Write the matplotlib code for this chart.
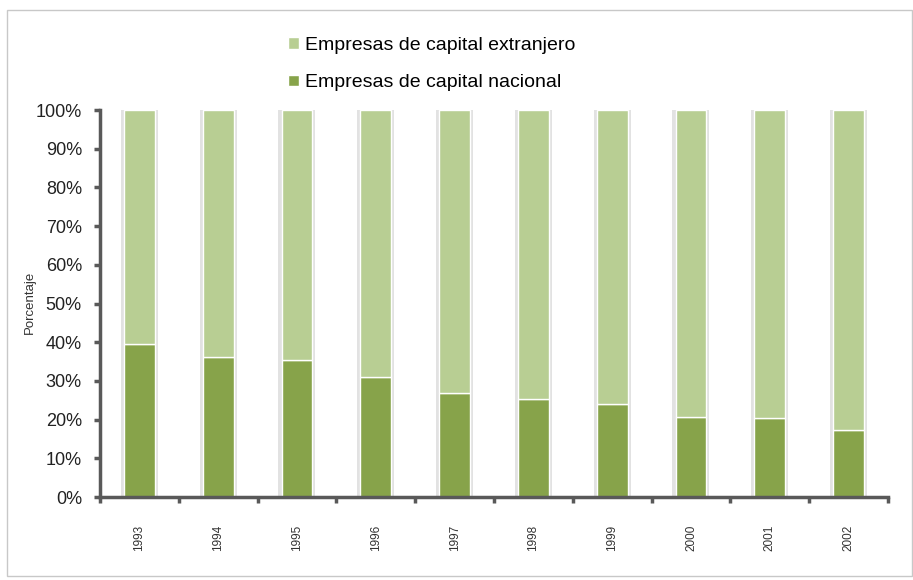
import matplotlib.pyplot as plt
from matplotlib.patches import Rectangle
from matplotlib.ticker import PercentFormatter
import numpy as np

# --- datos ---
anios = ["1993", "1994", "1995", "1996", "1997", "1998", "1999", "2000", "2001", "2002"]
nacional = [39.5, 36.2, 35.4, 31.0, 26.9, 25.3, 24.0, 20.7, 20.3, 17.3]
extranjero = [100 - v for v in nacional]

COLOR_NAC = "#87a34a"
COLOR_EXT = "#b8ce93"
COLOR_EJE = "#595959"

plt.rcParams["font.family"] = ["Liberation Sans", "DejaVu Sans"]

fig = plt.figure(figsize=(9.13, 5.80), dpi=100)
ax = fig.add_axes([0.1095, 0.1431, 0.8631, 0.6672])

# marco exterior
fig.patches.append(Rectangle((7 / 913, 4 / 580), 905 / 913, 566 / 580,
                             transform=fig.transFigure, fill=False,
                             edgecolor="#c8c8c8", linewidth=1.0))

x = np.arange(len(anios))
ancho = 0.39

# sombra ligera detrás de cada barra
ax.bar(x, [n + e for n, e in zip(nacional, extranjero)], width=ancho + 0.08,
       color="#e2e2e2", zorder=1)
ax.bar(x, nacional, width=ancho, color=COLOR_NAC, edgecolor="white",
       linewidth=1.0, label="Empresas de capital nacional", zorder=2)
ax.bar(x, extranjero, bottom=nacional, width=ancho, color=COLOR_EXT,
       edgecolor="white", linewidth=1.0,
       label="Empresas de capital extranjero", zorder=2)

ax.set_xlim(-0.5, len(anios) - 0.5)
ax.set_ylim(0, 100)
ax.set_yticks(np.arange(0, 101, 10))
ax.yaxis.set_major_formatter(PercentFormatter(decimals=0))
ax.tick_params(axis="y", labelsize=13, colors=COLOR_EJE, labelcolor="#222222",
               length=4, width=2.5, pad=9)

ax.set_xticks(x)
ax.set_xticklabels(anios, rotation=90, fontsize=8.5, color="#333333")
ax.tick_params(axis="x", length=0, pad=20)
ax.set_xticks(np.arange(-0.5, len(anios)), minor=True)
ax.tick_params(axis="x", which="minor", length=4, width=2.5, colors=COLOR_EJE)

for lado in ("top", "right"):
    ax.spines[lado].set_visible(False)
for lado in ("left", "bottom"):
    ax.spines[lado].set_color(COLOR_EJE)
    ax.spines[lado].set_linewidth(2.5)

fig.text(0.033, 0.479, "Porcentaje", rotation=90, fontsize=9.5,
         color="#333333", ha="center", va="center")

# leyenda: extranjero arriba, nacional abajo
handles, labels = ax.get_legend_handles_labels()
ax.legend(handles[::-1], labels[::-1], loc="center left",
          bbox_to_anchor=(0.2386, 1.119), frameon=False, fontsize=14,
          handlelength=0.55, handleheight=0.55, handletextpad=0.35,
          labelspacing=1.06, borderaxespad=0, borderpad=0)

fig.savefig("out.png", dpi=100)
